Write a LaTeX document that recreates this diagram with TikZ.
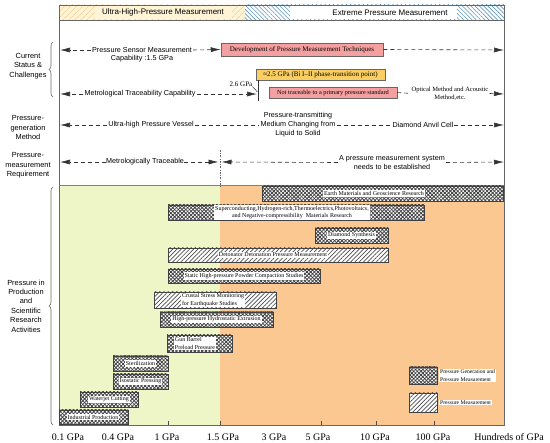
\documentclass[tikz,border=0pt]{standalone}
\usepackage{fontspec}
\setmainfont{Liberation Serif}
\setsansfont{Liberation Sans}
\usetikzlibrary{arrows.meta,patterns.meta,decorations.pathreplacing,positioning}
\definecolor{hdrbeige}{RGB}{255,244,214}
\definecolor{hdrorange}{RGB}{236,196,130}
\definecolor{hdrblue}{RGB}{95,150,190}
\definecolor{lowgreen}{RGB}{238,246,200}
\definecolor{highorange}{RGB}{252,200,146}
\definecolor{techred}{RGB}{244,160,160}
\definecolor{biyellow}{RGB}{250,206,96}
\tikzset{
  dasharr/.style={draw=black!80, line width=0.6pt, dash pattern=on 4pt off 3pt, -{Latex[length=10pt,width=5pt]}},
  dashln/.style={draw=black!80, line width=0.6pt, dash pattern=on 4pt off 3pt},
  lbl/.style={font=\sffamily\fontsize{7.2}{9}\selectfont, inner sep=1pt, align=center},
  sidelbl/.style={font=\sffamily\fontsize{7.4}{9.4}\selectfont, inner sep=0pt, align=center},
  techbox/.style={draw=black!60, line width=0.5pt, font=\fontsize{7}{8}\selectfont, inner sep=1pt},
  genbar/.style={draw=black!75, line width=0.7pt, fill=white,
    postaction={pattern={Lines[angle=45,distance=2.6pt,line width=0.8pt]}, pattern color=black!75},
    postaction={pattern={Lines[angle=-45,distance=2.6pt,line width=0.8pt]}, pattern color=black!75}},
  measbar/.style={draw=black!75, line width=0.7pt, fill=white,
    postaction={pattern={Lines[angle=45,distance=3pt,line width=0.7pt]}, pattern color=black!70}},
  barlbl/.style={fill=white, font=\fontsize{6}{7.4}\selectfont, inner sep=1pt, align=center},
  axlbl/.style={font=\fontsize{10}{12}\selectfont, inner sep=0pt}
}
\begin{document}
\begin{tikzpicture}[x=1pt, y=-1pt]
\useasboundingbox (0,0) rectangle (550,443);
% header
\fill[hdrbeige] (59,5) rectangle (245,20);
\fill[pattern={Lines[angle=45,distance=4pt,line width=0.5pt]}, pattern color=hdrorange] (59,5) rectangle (245,20);
\fill[pattern={Lines[angle=-45,distance=3pt,line width=0.6pt]}, pattern color=hdrblue] (245,5) rectangle (504,20);
\fill[hdrbeige] (95,6) rectangle (232,19);
\fill[white] (290,6) rectangle (457,19);
\draw[black!60, line width=0.6pt] (59,5) rectangle (504,20);
\node[lbl, font=\sffamily\fontsize{8}{9}\selectfont] (ultra) at (163,12.5) {Ultra-High-Pressure Measurement};
\node[lbl, font=\sffamily\fontsize{8}{9}\selectfont] (extreme) at (390,12.5) {Extreme Pressure Measurement};
% background of activities
\fill[lowgreen] (59,185) rectangle (220,425);
\fill[highorange] (220,185) rectangle (504,425);
\draw[black!60, line width=0.6pt] (59,20) -- (59,425) -- (504,425) -- (504,20);
\draw[black!50, line width=0.6pt] (59,185) -- (504,185);
% side labels
\node[sidelbl] (status) at (28,66) {Current\\Status \&\\Challenges};
\node[sidelbl] (method) at (28,127.5) {Pressure-\\generation\\Method};
\node[sidelbl] (require) at (28,165.5) {Pressure-\\measurement\\Requirement};
\node[sidelbl] (activity) at (26,306) {Pressure in\\Production\\and\\Scientific\\Research\\Activities};
\draw[decorate, decoration={brace,amplitude=4pt}, black!60, line width=0.6pt] (53,97) -- (53,42);
\draw[decorate, decoration={brace,amplitude=4pt}, black!60, line width=0.6pt] (53,425) -- (53,187);
% row 1
\coordinate (r1L) at (60,50);
\coordinate (r1R) at (504,50);
\node[lbl] (sensor) at (142,50) {Pressure Sensor Measurement};
\node[lbl, below=0pt of sensor] (sensorb) {Capability :1.5 GPa};
\node[techbox, fill=techred, minimum width=162pt, minimum height=13pt] (devel) at (302,49.5) {Development of Pressure Measurement Techniques};
\draw[dasharr] (sensor.west) -- (r1L);
\draw[dasharr] (sensor.east) -- (devel.west);
\draw[dasharr] (devel.east) -- (r1R);
% row 2
\coordinate (r2L) at (60,94);
\coordinate (r2R) at (504,94);
\coordinate (p26) at (258,94);
\node[lbl] (metro) at (140,94) {Metrological Traceability Capability};
\node[techbox, fill=biyellow, minimum width=129pt, minimum height=11pt] (bi) at (320.5,75) {≈2.5 GPa (Bi I–II phase-transition point)};
\node[techbox, fill=techred, font=\fontsize{6.3}{7}\selectfont, minimum width=128pt, minimum height=11pt] (notrace) at (333,92.5) {Not traceable to a primary pressure standard};
\node[font=\fontsize{6.5}{8.5}\selectfont, inner sep=1pt, align=center] (optical) at (450,93.5) {Optical Method and Acoustic\\Method,etc.};
\node[font=\fontsize{7}{8}\selectfont, inner sep=0pt] (p26lbl) at (241,84) {2.6 GPa};
\draw[black!80, line width=0.5pt] (258,80) -- (258,101);
\draw[black!80, line width=0.5pt] (p26lbl.south east) -- (257.5,92);
\draw[dasharr] (metro.west) -- (r2L);
\draw[dasharr] (metro.east) -- ([xshift=-1pt]p26);
\draw[dashln] (notrace.east) -- (optical.west);
\draw[dasharr] (optical.east) -- (r2R);
% row 3
\coordinate (r3L) at (60,125);
\coordinate (r3R) at (504,125);
\node[lbl] (vessel) at (151,125) {Ultra-high Pressure Vessel};
\node[lbl] (medium) at (298,125) {Pressure-transmitting\\Medium Changing from\\Liquid to Solid};
\node[lbl, inner sep=0pt] (dac) at (423,125) {Diamond Anvil Cell};
\draw[dasharr] (vessel.west) -- (r3L);
\draw[dashln] (vessel.east) -- (medium.west);
\draw[dashln] (medium.east) -- (dac.west);
\draw[dasharr] (dac.east) -- (r3R);
% row 4
\coordinate (r4L) at (60,162);
\coordinate (r4R) at (504,162);
\coordinate (r4M) at (220,162);
\node[lbl, inner sep=0pt] (trace) at (145,162) {Metrologically Traceable};
\node[lbl] (estab) at (392,162.5) {A pressure measurement system\\needs to be established};
\draw[black!60, line width=0.5pt, dash pattern=on 2pt off 1.5pt on 0.5pt off 1.5pt] (220,150) -- (220,187);
\draw[dasharr] (trace.west) -- (r4L);
\draw[dasharr] (trace.east) -- ([xshift=-1.5pt]r4M);
\draw[dasharr] (estab.west) -- ([xshift=1.5pt]r4M);
\draw[dasharr] (estab.east) -- (r4R);
% activity bars
\draw[genbar] (262,186) rectangle (503,201);
\node[barlbl] (earth) at (374,193.5) {Earth Materials and Geoscience Research};
\draw[genbar] (168,205) rectangle (424,220);
\node[barlbl] (supercon) at (292,212.5) {Superconducting,Hydrogen-rich,Thermoelectrics,Photovoltaics,\\and Negative-compressibility\ \ Materials Research};
\draw[genbar] (315,228) rectangle (388,243);
\node[barlbl] (diamond) at (351.5,235.5) {Diamond Synthesis};
\draw[measbar] (168,248) rectangle (388,262);
\node[barlbl] (deton) at (273,255) {Detonator Detonation Pressure Measurement};
\draw[genbar] (168,269) rectangle (320,283);
\node[barlbl] (powder) at (244,276) {Static High-pressure Powder Compaction Studies};
\draw[measbar] (154,292) rectangle (276,308);
\node[barlbl, align=left] (crustal) at (213,300) {Crustal Stress Monitoring\\for Earthquake Studies};
\draw[genbar] (160,312) rectangle (273,327);
\node[barlbl] (extrusion) at (216.5,319.5) {High-pressure Hydrostatic Extrusion};
\draw[genbar] (167,335) rectangle (232,352);
\node[barlbl, align=left] (gun) at (195,343.5) {Gun Barrel\\Preload Pressure};
\draw[genbar] (113,356) rectangle (168,371);
\node[barlbl] (steril) at (140.5,363.5) {Sterilization};
\draw[genbar] (113,374) rectangle (168,389);
\node[barlbl] (isostatic) at (140.5,381.5) {Isostatic Pressing};
\draw[genbar] (80,392) rectangle (138,407);
\node[barlbl] (waterjet) at (109,399.5) {Waterjet Cutting};
\draw[genbar] (59,410) rectangle (128,424);
\node[barlbl] (industry) at (93,417) {Industrial Production};
% legend
\draw[genbar] (409,367) rectangle (437,384);
\node[barlbl, align=left, anchor=west, font=\fontsize{5.6}{8}\selectfont] (leggen) at (439,375.5) {Pressure Generation and\\Pressure Measurement};
\draw[measbar] (409,393) rectangle (437,412);
\node[barlbl, anchor=west, font=\fontsize{5.6}{8}\selectfont] (legmeas) at (439,402.5) {Pressure Measurement};
% axis
\foreach \tx in {168,220,321,376,434} \draw[black!70, line width=0.5pt] (\tx,421) -- (\tx,425);
\node[axlbl] (g01) at (68,437) {0.1 GPa};
\node[axlbl] (g04) at (118,437) {0.4 GPa};
\node[axlbl] (g1) at (167,437) {1 GPa};
\node[axlbl] (g15) at (223,437) {1.5 GPa};
\node[axlbl] (g3) at (274,437) {3 GPa};
\node[axlbl] (g5) at (318,437) {5 GPa};
\node[axlbl] (g10) at (375,437) {10 GPa};
\node[axlbl] (g100) at (433,437) {100 GPa};
\node[axlbl, anchor=east] (ghund) at (544,437) {Hundreds of GPa};
\end{tikzpicture}
\end{document}
